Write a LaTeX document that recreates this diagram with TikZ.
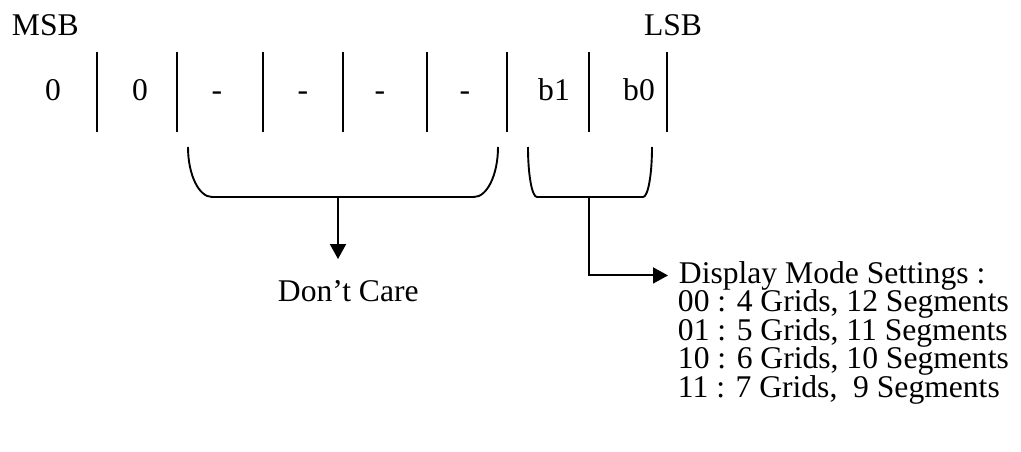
\documentclass[tikz,border=0pt]{standalone}
\usepackage{fontspec}
\setmainfont{Liberation Serif}
\usetikzlibrary{arrows.meta,positioning}
\tikzset{global scale/.style={
        scale=#1,
        every node/.append style={scale=#1}
    },
    bitlabel/.style={anchor=base, inner sep=0pt},
    sidelabel/.style={anchor=base west, inner sep=0pt},
    pointer/.style={-{Triangle[length=15pt,width=16pt]}}
}

\begin{document}
\begin{tikzpicture}[x=1pt, y=-1pt, line width=1.9pt,
    every node/.style={font=\fontsize{31.6}{29}\selectfont}]
    \useasboundingbox (0,0) rectangle (1021,452);
    % Register bits
    \node[sidelabel] (msb) at (11,36) {MSB};
    \node[bitlabel] (lsb) at (673,36) {LSB};
    \foreach \name/\x/\val in {bit7/53/0, bit6/140/0, bit5/217/-, bit4/303/-,
        bit3/380/-, bit2/465/-, bit1/554/b1, bit0/639/b0}
        \node[bitlabel] (\name) at (\x,100) {\val};
    \foreach \x in {97,177,263,343,427,507,589,667}
        \draw (\x,52) -- (\x,132);
    % Braces
    \draw (188,147) .. controls (188,175) and (199,197) .. (212,197)
        -- (474,197) .. controls (487,197) and (498,175) .. (498,147);
    \draw (528,147) .. controls (528,175) and (532,197) .. (537,197)
        -- (643,197) .. controls (648,197) and (652,175) .. (652,147);
    \coordinate (care) at (338,197);
    \coordinate (mode) at (589,197);
    % Labels
    \node[sidelabel] (dontcare) at (277,301) {Don’t Care};
    \node[sidelabel] (dms) at (678,283) {Display Mode Settings :};
    \foreach \i/\txt in {1/00 : 4 Grids{,} 12 Segments, 2/01 : 5 Grids{,} 11 Segments,
        3/10 : 6 Grids{,} 10 Segments, 4/11 : 7 Grids{,}~~9 Segments}
        \node[sidelabel] (mode\i) at (677,283+28.5*\i) {\txt};
    \draw[pointer, shorten >=20pt] (care) -- (care |- dontcare.north);
    \draw[pointer, shorten >=10pt] (mode) |- (dms.west);
\end{tikzpicture}
\end{document}
